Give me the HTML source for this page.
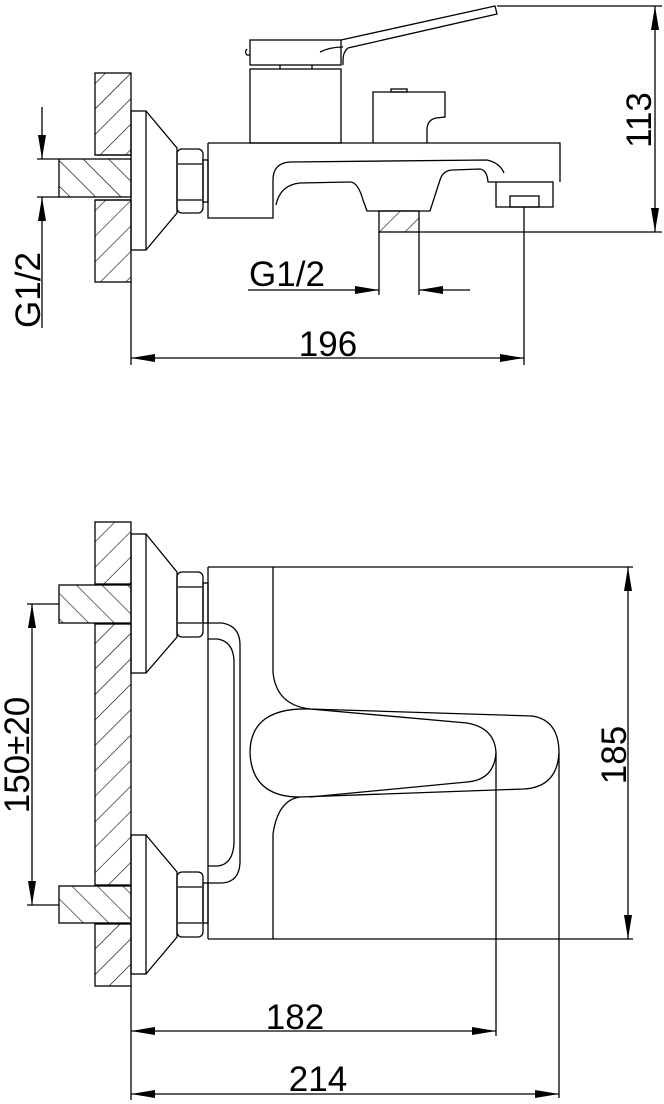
<!DOCTYPE html>
<html><head><meta charset="utf-8"><style>html,body{margin:0;padding:0;background:#fff}svg{display:block}</style></head>
<body>
<svg width="664" height="1104" viewBox="0 0 664 1104" xmlns="http://www.w3.org/2000/svg" font-family="Liberation Sans, sans-serif">
<defs>
<pattern id="hw" patternUnits="userSpaceOnUse" width="18" height="18" patternTransform="rotate(45)">
<line x1="0" y1="0" x2="0" y2="18" stroke="#000" stroke-width="1.2"/></pattern>
<pattern id="hp" patternUnits="userSpaceOnUse" width="18" height="18" patternTransform="rotate(-45)">
<line x1="0" y1="0" x2="0" y2="18" stroke="#000" stroke-width="1.2"/></pattern>
<marker id="a" viewBox="0 0 24 8" refX="24" refY="4" markerWidth="24" markerHeight="8" markerUnits="userSpaceOnUse" orient="auto-start-reverse"><path d="M0,0 L24,4 L0,8 Z" fill="#000"/></marker>
</defs>
<g fill="none" stroke="#000" stroke-width="1.3">
<!-- TOP VIEW -->
<rect x="95" y="73" width="36" height="82" fill="url(#hw)"/>
<rect x="95" y="200" width="36" height="82" fill="url(#hw)"/>
<rect x="59" y="159" width="72" height="38" fill="url(#hp)"/>
<line x1="95" y1="155" x2="131" y2="155"/><line x1="95" y1="200" x2="131" y2="200"/>
<rect x="131" y="111" width="15" height="139"/>
<path d="M146,111 L177,148 L177,213 L146,250"/>
<rect x="177" y="149" width="26" height="64" rx="5"/>
<line x1="178" y1="164" x2="202" y2="164"/><line x1="178" y1="200" x2="202" y2="200"/>
<rect x="203" y="160" width="5" height="42"/>
<!-- body -->
<path d="M208,143 L560,143 L560,182"/>
<path d="M208,143 L208,218 L273,218 L273,180 Q273,163 290,162 L487,160 Q500,163 504,173"/>
<path d="M276,205 Q280,185 300,183 L350,182 Q358,182 363,200 L367,211 L430,211 L440,180 Q443,170 453,170 L480,169 Q487,170 488,182 L496,182"/>
<rect x="496" y="182" width="57" height="25"/>
<rect x="510" y="196" width="29" height="11"/>
<rect x="250" y="69" width="91" height="74"/>
<rect x="250" y="40" width="91" height="25"/>
<line x1="280" y1="65" x2="280" y2="69"/><line x1="312" y1="65" x2="312" y2="69"/>
<path d="M247,49 Q244,52 247,55 L250,55"/>
<path d="M341,40 L495,6 L497,14 L348,48 Q343,52 343,60 L343,65"/>
<path d="M320,52 Q330,47 343,47"/>
<path d="M373,143 L373,92 L445,92 L445,117 L436,118 Q427,120 427,130 L427,143"/>
<rect x="391" y="89" width="16" height="3"/>
<rect x="379" y="211" width="40" height="21" fill="url(#hw)"/>
<!-- top dims -->
<line x1="42" y1="107" x2="42" y2="159" marker-end="url(#a)"/>
<line x1="42" y1="328" x2="42" y2="197" marker-end="url(#a)"/>
<line x1="37" y1="159" x2="59" y2="159"/><line x1="37" y1="197" x2="59" y2="197"/>
<line x1="379" y1="232" x2="379" y2="295"/><line x1="419" y1="232" x2="419" y2="295"/>
<line x1="248" y1="290" x2="379" y2="290" marker-end="url(#a)"/>
<line x1="470" y1="290" x2="419" y2="290" marker-end="url(#a)"/>
<line x1="419" y1="232" x2="662" y2="232"/><line x1="497" y1="6" x2="662" y2="6"/>
<line x1="655" y1="120" x2="655" y2="6" marker-end="url(#a)"/>
<line x1="655" y1="120" x2="655" y2="232" marker-end="url(#a)"/>
<line x1="524" y1="207" x2="524" y2="365"/>
<line x1="131" y1="282" x2="131" y2="365"/>
<line x1="330" y1="358" x2="131" y2="358" marker-end="url(#a)"/>
<line x1="330" y1="358" x2="524" y2="358" marker-end="url(#a)"/>
<!-- BOTTOM VIEW -->
<rect x="95" y="522" width="36" height="62" fill="url(#hw)"/>
<rect x="95" y="624" width="36" height="261" fill="url(#hw)"/>
<rect x="95" y="924" width="36" height="62" fill="url(#hw)"/>
<rect x="59" y="585" width="72" height="38" fill="url(#hp)"/>
<rect x="59" y="886" width="72" height="37" fill="url(#hp)"/>
<rect x="131" y="534" width="15" height="139"/>
<path d="M146,534 L177,572 L177,637 L146,673"/>
<rect x="131" y="835" width="15" height="139"/>
<path d="M146,835 L177,872 L177,937 L146,974"/>
<rect x="177" y="572" width="26" height="65" rx="5"/>
<line x1="178" y1="587" x2="202" y2="587"/><line x1="178" y1="623" x2="202" y2="623"/>
<rect x="177" y="872" width="26" height="65" rx="5"/>
<line x1="178" y1="887" x2="202" y2="887"/><line x1="178" y1="923" x2="202" y2="923"/>
<rect x="203" y="583" width="5" height="40"/>
<rect x="203" y="883" width="5" height="40"/>
<path d="M208,567 L208,939"/>
<path d="M208,623 L222,623 Q240,626 240,645 L240,863 Q239,882 222,883 L208,883"/>
<path d="M208,639 L218,639 Q233,642 234,660 L234,843 Q233,864 218,866 L208,866"/>
<path d="M273,567 L273,672 Q276,705 310,709 L532,716 Q559,720 559,753 Q557,787 524,789 L300,797 Q278,800 273,834 L273,939"/>
<path d="M310,709 Q250,707 250,753 Q252,797 300,797"/>
<path d="M310,709 L467,723 Q495,728 496,753 Q494,780 467,782 L310,797"/>
<line x1="208" y1="567" x2="633" y2="567"/><line x1="208" y1="939" x2="633" y2="939"/>
<line x1="628" y1="750" x2="628" y2="567" marker-end="url(#a)"/>
<line x1="628" y1="750" x2="628" y2="939" marker-end="url(#a)"/>
<line x1="27" y1="604" x2="59" y2="604"/><line x1="27" y1="905" x2="59" y2="905"/>
<line x1="32" y1="750" x2="32" y2="604" marker-end="url(#a)"/>
<line x1="32" y1="750" x2="32" y2="905" marker-end="url(#a)"/>
<line x1="496" y1="753" x2="496" y2="1036"/>
<line x1="559" y1="753" x2="559" y2="1098"/>
<line x1="131" y1="986" x2="131" y2="1100"/>
<line x1="300" y1="1031" x2="131" y2="1031" marker-end="url(#a)"/>
<line x1="300" y1="1031" x2="496" y2="1031" marker-end="url(#a)"/>
<line x1="340" y1="1094" x2="131" y2="1094" marker-end="url(#a)"/>
<line x1="340" y1="1094" x2="559" y2="1094" marker-end="url(#a)"/>
</g>
<g font-size="35" fill="#000">
<text x="328" y="356" text-anchor="middle">196</text>
<text x="287" y="286" text-anchor="middle">G1/2</text>
<text transform="translate(40,290) rotate(-90)" text-anchor="middle">G1/2</text>
<text transform="translate(651,120) rotate(-90)" text-anchor="middle">113</text>
<text transform="translate(626,755) rotate(-90)" text-anchor="middle">185</text>
<text transform="translate(29,755) rotate(-90)" text-anchor="middle">150±20</text>
<text x="295" y="1029" text-anchor="middle">182</text>
<text x="318" y="1091" text-anchor="middle">214</text>
</g>
</svg>
</body></html>
